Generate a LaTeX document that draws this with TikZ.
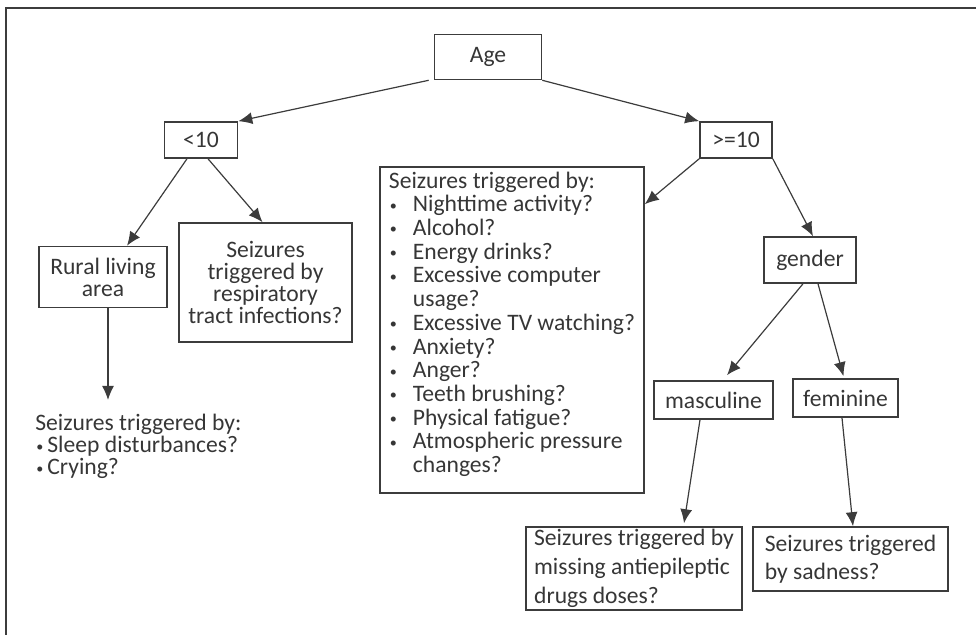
\documentclass[tikz,border=0pt]{standalone}
\usepackage{fontspec}
\setmainfont{Carlito}
\usetikzlibrary{arrows.meta}
\definecolor{ink}{HTML}{363636}
\definecolor{edge}{HTML}{3C3C3C}
\newcommand{\itm}[1][12pt]{\makebox[#1][l]{\hspace{0.5pt}\raisebox{0.15ex}{\scalebox{0.6}{•}}}}
\newcommand{\cont}{\hspace*{12pt}}
\newcommand{\txt}[1]{\fontsize{11.8}{#1}\selectfont\lineskiplimit=-20pt}

\begin{document}
\begin{tikzpicture}[x=0.5pt,y=-0.5pt,
    every node/.style={font=\txt{11}, text=ink},
    box/.style={draw=edge, line width=0.8pt, inner sep=0pt, align=center},
    arr/.style={draw=edge, line width=0.6pt, -{Latex[length=7pt,width=6pt]}}]
\useasboundingbox (0,0) rectangle (976,635);
\draw[edge, line width=0.8pt] (6,635) -- (6,8) -- (976,8);
% age split
\node[box, minimum width=53.5pt, minimum height=22.5pt] (age) at (488,57) {Age};
\node[box, minimum width=36.5pt, minimum height=18pt] (lt) at (201,140) {<10};
\node[box, minimum width=36pt, minimum height=18pt] (ge) at (736,140) {>=10};
% younger branch
\node[box, minimum width=64pt, minimum height=30.5pt] (rural) at (103,277) {Rural living\\area};
\node[box, minimum width=86.5pt, minimum height=59.5pt] (resp) at (265.5,282.5)
    {Seizures\\triggered by\\respiratory\\tract infections?};
\node[align=left, inner xsep=0pt, inner ysep=7pt, anchor=north west] (young) at (35,400)
    {Seizures triggered by:\\ \itm[6pt]Sleep disturbances?\\ \itm[6pt]Crying?};
% older branch
\node[box, align=left, minimum width=132pt, minimum height=163pt, font=\txt{11.85}] (older) at (512,330)
    {Seizures triggered by:\\ \itm Nighttime activity?\\ \itm Alcohol?\\ \itm Energy drinks?\\
     \itm Excessive computer\\ \cont usage?\\ \itm Excessive TV watching?\\ \itm Anxiety?\\
     \itm Anger?\\ \itm Teeth brushing?\\ \itm Physical fatigue?\\ \itm Atmospheric pressure\\
     \cont changes?\\[-4pt]\mbox{}};
\node[box, minimum width=46pt, minimum height=23pt] (gender) at (810,260) {gender};
\node[box, minimum width=59.5pt, minimum height=19pt] (masc) at (713.5,400) {masculine};
\node[box, minimum width=52.5pt, minimum height=19pt] (fem) at (845.5,398) {feminine};
\node[box, align=left, minimum width=108pt, minimum height=41.5pt, font=\txt{14.5}] (drugs) at (634,568.5)
    {Seizures triggered by\\missing antiepileptic\\drugs doses?};
\node[box, align=left, minimum width=97.5pt, minimum height=32pt, font=\txt{14}] (sad) at (850.5,559)
    {Seizures triggered\\by sadness?};
% connectors
\draw[arr] ([xshift=-2.5pt]age.south west) -- (lt.north east);
\draw[arr] (age.south east) -- (ge.north west);
\draw[arr] ([xshift=-7pt]lt.south) -- ([xshift=12pt]rural.north);
\draw[arr] ([xshift=3.5pt]lt.south) -- ([xshift=-1.5pt]resp.north);
\draw[arr] ([xshift=2.5pt]rural.south) -- ([xshift=2.5pt]rural.south |- young.north);
\draw[arr] (ge.south west) -- ([yshift=-19pt]older.north east);
\draw[arr] (ge.south east) -- ([xshift=1.5pt]gender.north);
\draw[arr] ([xshift=-3.5pt]gender.south) -- ([xshift=6.75pt,yshift=2.5pt]masc.north);
\draw[arr] ([xshift=4pt]gender.south) -- ([xshift=-1pt,yshift=1pt]fem.north);
\draw[arr] ([xshift=-6.75pt]masc.south) -- ([xshift=25pt,yshift=1.5pt]drugs.north);
\draw[arr] ([xshift=-1.75pt]fem.south) -- ([xshift=1.25pt]sad.north);
\end{tikzpicture}
\end{document}
